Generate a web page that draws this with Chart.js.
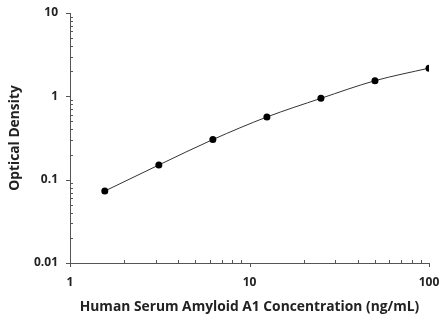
<!DOCTYPE html>
<html>
<head>
<meta charset="utf-8">
<script src="https://cdn.jsdelivr.net/npm/chart.js@4/dist/chart.umd.min.js"></script>
<style>
  html, body { margin: 0; padding: 0; background: #fff; }
  #wrap { width: 440px; height: 318px; }
</style>
</head>
<body>
<div id="wrap"><canvas id="odChart"></canvas></div>
<script>
// standard curve data
const concentration = [1.5625, 3.125, 6.25, 12.5, 25, 50, 100];
const opticalDensity = [0.073, 0.150, 0.303, 0.565, 0.946, 1.54, 2.18];
const xTicks = [1, 10, 100];
const yTicks = [0.01, 0.1, 1, 10];

const axisColor = '#555';
const fontFamily = "'Open Sans', 'Lato', sans-serif";

// draws axis lines, outward major ticks and inward minor ticks
const logTicks = {
  id: 'logTicks',
  afterDraw(chart) {
    const { ctx, chartArea, scales } = chart;
    const x = scales.x, y = scales.y;
    ctx.save();
    ctx.strokeStyle = axisColor;
    ctx.lineWidth = 1;
    ctx.beginPath();
    ctx.moveTo(chartArea.left + 0.5, chartArea.top);
    ctx.lineTo(chartArea.left + 0.5, chartArea.bottom + 4);
    ctx.moveTo(chartArea.left - 3, chartArea.bottom + 0.5);
    ctx.lineTo(chartArea.right, chartArea.bottom + 0.5);

    yTicks.forEach((v, i) => {
      const py = Math.round(y.getPixelForValue(v)) + 0.5;
      ctx.moveTo(chartArea.left - 4, py);
      ctx.lineTo(chartArea.left, py);
      if (i < yTicks.length - 1) {
        for (let k = 2; k <= 9; k++) {
          const my = Math.round(y.getPixelForValue(v * k)) + 0.5;
          ctx.moveTo(chartArea.left, my);
          ctx.lineTo(chartArea.left + 3, my);
        }
      }
    });
    xTicks.forEach((v, i) => {
      const px = Math.round(x.getPixelForValue(v)) + 0.5;
      ctx.moveTo(px, chartArea.bottom);
      ctx.lineTo(px, chartArea.bottom + 4);
      if (i < xTicks.length - 1) {
        for (let k = 2; k <= 9; k++) {
          const mx = Math.round(x.getPixelForValue(v * k)) + 0.5;
          ctx.moveTo(mx, chartArea.bottom);
          ctx.lineTo(mx, chartArea.bottom - 3);
        }
      }
    });
    ctx.stroke();
    ctx.restore();
  }
};

new Chart(document.getElementById('odChart'), {
  type: 'line',
  data: {
    labels: concentration,
    datasets: [{
      data: concentration.map((c, i) => ({ x: c, y: opticalDensity[i] })),
      borderColor: '#333',
      borderWidth: 1,
      backgroundColor: '#000',
      pointRadius: 3.5,
      pointBorderWidth: 0,
      cubicInterpolationMode: 'monotone',
      fill: false
    }]
  },
  options: {
    responsive: true,
    maintainAspectRatio: false,
    animation: false,
    layout: { padding: { top: 13, right: 11, left: 0, bottom: 0 } },
    plugins: { legend: { display: false }, tooltip: { enabled: false } },
    scales: {
      x: {
        type: 'logarithmic',
        min: 1,
        max: 100,
        afterBuildTicks: (scale) => { scale.ticks = xTicks.map(v => ({ value: v })); },
        afterFit: (scale) => {
          scale.height = 55;
          scale.paddingLeft = 0;
          scale.paddingRight = 0;
        },
        grid: { display: false, drawTicks: false },
        border: { display: false },
        ticks: {
          color: '#222',
          padding: 12,
          maxRotation: 0,
          font: { family: fontFamily, size: 12, weight: 'bold' },
          callback: (v) => String(v)
        },
        title: {
          display: true,
          text: 'Human Serum Amyloid A1 Concentration (ng/mL)',
          color: '#222',
          padding: { top: 0, bottom: 3 },
          font: { family: fontFamily, size: 13.8, weight: 'bold' }
        }
      },
      y: {
        type: 'logarithmic',
        min: 0.01,
        max: 10,
        afterBuildTicks: (scale) => { scale.ticks = yTicks.map(v => ({ value: v })); },
        afterFit: (scale) => {
          scale.width = 70;
          scale.paddingTop = 0;
          scale.paddingBottom = 0;
        },
        grid: { display: false, drawTicks: false },
        border: { display: false },
        ticks: {
          color: '#222',
          padding: 12,
          font: { family: fontFamily, size: 12, weight: 'bold' },
          callback: (v) => String(v)
        },
        title: {
          display: true,
          text: 'Optical Density',
          color: '#222',
          padding: { top: 7, bottom: 0 },
          font: { family: fontFamily, size: 13.8, weight: 'bold' }
        }
      }
    }
  },
  plugins: [logTicks]
});
</script>
</body>
</html>
